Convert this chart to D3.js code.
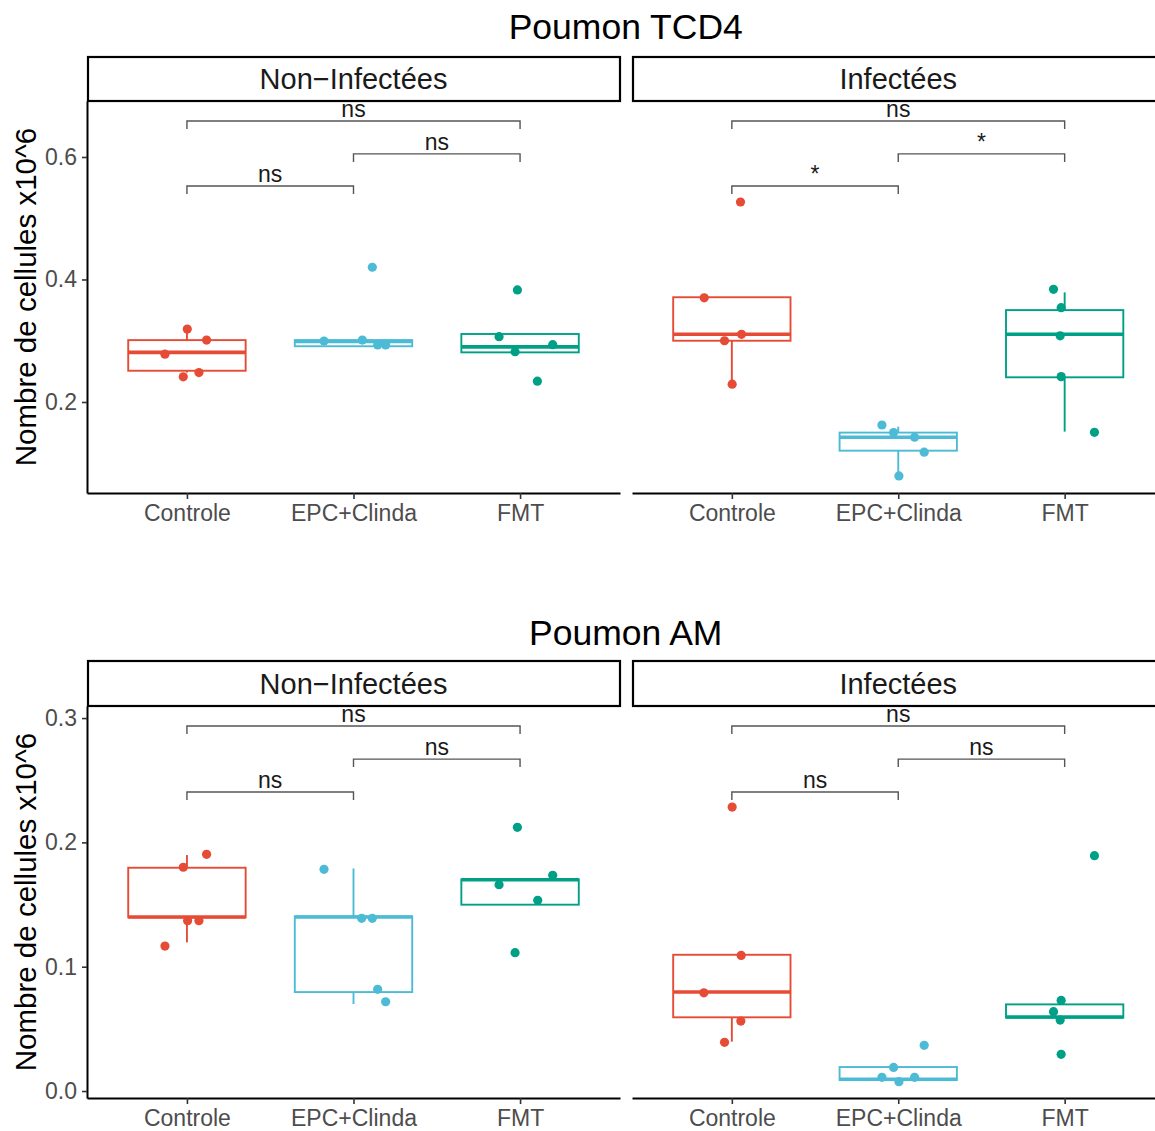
<!DOCTYPE html>
<html><head><meta charset="utf-8">
<script src="https://cdn.jsdelivr.net/npm/d3@7"></script>
<style>body{margin:0;background:#fff} text{font-family:"Liberation Sans",Arial,sans-serif}</style>
</head><body><svg id="c" width="1155" height="1131"></svg>
<script>
// ---------- data ----------
const categories = ["Controle", "EPC+Clinda", "FMT"];
const facets = ["Non−Infectées", "Infectées"];
const groupColors = ["#E64B35", "#4DBBD5", "#00A087"];
const comparisons = [[0, 1], [1, 2], [0, 2]];

// Poumon TCD4
const tcd4Ticks = [0.2, 0.4, 0.6];
const tcd4BracketY = [0.5527, 0.605, 0.6588];
const tcd4NonLabels = ["ns", "ns", "ns"];
const tcd4InfLabels = ["*", "*", "ns"];
const tcd4NonValues = [[0.278, 0.319, 0.301, 0.241, 0.248], [0.2996, 0.301, 0.293, 0.293, 0.42], [0.3067, 0.2936, 0.282, 0.383, 0.234]];
const tcd4NonJitter = [[-0.132, 0.002, 0.118, -0.022, 0.072], [-0.177, 0.053, 0.145, 0.193, 0.113], [-0.126, 0.196, -0.030, -0.016, 0.104]];
const tcd4NonBox = [[0.251, 0.281, 0.301, 0.248, 0.319], [0.291, 0.299, 0.301, 0.291, 0.301], [0.281, 0.290, 0.311, 0.281, 0.311]];
const tcd4InfValues = [[0.370, 0.3105, 0.300, 0.229, 0.5265], [0.1624, 0.150, 0.1424, 0.118, 0.0792], [0.384, 0.354, 0.308, 0.2414, 0.1505]];
const tcd4InfJitter = [[-0.166, 0.058, -0.044, 0.002, 0.052], [-0.098, -0.028, 0.098, 0.156, 0.004], [-0.067, -0.021, -0.027, -0.021, 0.179]];
const tcd4InfBox = [[0.300, 0.3105, 0.371, 0.229, 0.371], [0.1205, 0.1424, 0.150, 0.0792, 0.1597], [0.2403, 0.3105, 0.350, 0.1516, 0.379]];

// Poumon AM
const amTicks = [0.0, 0.1, 0.2, 0.3];
const amBracketY = [0.2405, 0.267, 0.2936];
const amNonLabels = ["ns", "ns", "ns"];
const amInfLabels = ["ns", "ns", "ns"];
const amNonValues = [[0.180, 0.1904, 0.137, 0.137, 0.1166], [0.1783, 0.1389, 0.1389, 0.0818, 0.0718], [0.2121, 0.1735, 0.166, 0.1534, 0.1113]];
const amNonJitter = [[-0.022, 0.118, 0.004, 0.072, -0.132], [-0.177, 0.049, 0.113, 0.145, 0.193], [-0.016, 0.196, -0.126, 0.106, -0.030]];
const amNonBox = [[0.1397, 0.1400, 0.1796, 0.1196, 0.1898], [0.0796, 0.1400, 0.1405, 0.070, 0.179], [0.1499, 0.1700, 0.1703, 0.1499, 0.1703]];
const amInfValues = [[0.1091, 0.079, 0.0563, 0.0392, 0.2284], [0.019, 0.011, 0.0075, 0.011, 0.0368], [0.0729, 0.0638, 0.0571, 0.0295, 0.1893]];
const amInfJitter = [[0.056, -0.168, 0.054, -0.044, 0.002], [-0.028, -0.098, 0.004, 0.098, 0.156], [-0.021, -0.067, -0.027, -0.021, 0.179]];
const amInfBox = [[0.0593, 0.0796, 0.1096, 0.0397, 0.1096], [0.0088, 0.0095, 0.0193, 0.0088, 0.0193], [0.059, 0.0595, 0.0697, 0.059, 0.0697]];

// ---------- layout ----------
const svg = d3.select("#c");
const panelX = [[87, 620], [632, 1164.5]];
const charts = [
  { title: "Poumon TCD4", titleY: 39, stripTop: 57, top: 101, bottom: 493, domain: [0.0514, 0.6914], ticks: tcd4Ticks, brackets: tcd4BracketY,
    facetData: [[tcd4NonValues, tcd4NonJitter, tcd4NonBox, tcd4NonLabels], [tcd4InfValues, tcd4InfJitter, tcd4InfBox, tcd4InfLabels]] },
  { title: "Poumon AM", titleY: 645, stripTop: 661, top: 706, bottom: 1098, domain: [-0.0056, 0.3097], ticks: amTicks, brackets: amBracketY,
    facetData: [[amNonValues, amNonJitter, amNonBox, amNonLabels], [amInfValues, amInfJitter, amInfBox, amInfLabels]] }
];

charts.forEach(ch => {
  const y = d3.scaleLinear().domain(ch.domain).range([ch.bottom, ch.top]);
  svg.append("text").attr("x", (panelX[0][0] + panelX[1][1]) / 2).attr("y", ch.titleY)
    .attr("text-anchor", "middle").attr("font-size", 35.5).attr("fill", "#000").text(ch.title);
  // y axis title
  svg.append("text").attr("transform", `translate(36,${(ch.top + ch.bottom) / 2}) rotate(-90)`)
    .attr("text-anchor", "middle").attr("font-size", 29.5).attr("fill", "#000").text("Nombre de cellules x10^6");

  facets.forEach((fname, fi) => {
    const [x0, x1] = panelX[fi];
    const x = d3.scalePoint().domain(categories).range([x0, x1]).padding(0.6);
    const step = x.step();
    const [vals, jit, boxes, labels] = ch.facetData[fi];
    const g = svg.append("g");

    // strip
    g.append("rect").attr("x", x0 + 1).attr("y", ch.stripTop).attr("width", x1 - x0 - 1).attr("height", ch.top - ch.stripTop)
      .attr("fill", "#fff").attr("stroke", "#000").attr("stroke-width", 2.2);
    g.append("text").attr("x", (x0 + x1) / 2).attr("y", (ch.stripTop + ch.top) / 2 + 10)
      .attr("text-anchor", "middle").attr("font-size", 29).attr("fill", "#1a1a1a").text(fname);

    // x axis
    const xa = g.append("g").attr("transform", `translate(0,${ch.bottom})`)
      .call(d3.axisBottom(x).tickSize(6).tickSizeOuter(0).tickPadding(6));
    xa.select(".domain").attr("stroke", "#000").attr("stroke-width", 2);
    xa.selectAll(".tick line").attr("stroke", "#333").attr("stroke-width", 1.6);
    xa.selectAll(".tick text").attr("font-size", 23).attr("fill", "#4d4d4d").attr("font-family", "Liberation Sans, Arial, sans-serif");

    // y axis (left facet only)
    if (fi === 0) {
      const ya = g.append("g").attr("transform", `translate(${x0},0)`)
        .call(d3.axisLeft(y).tickValues(ch.ticks).tickFormat(d3.format(".1f")).tickSize(5).tickSizeOuter(0).tickPadding(5));
      ya.select(".domain").attr("stroke", "#000").attr("stroke-width", 2);
      ya.selectAll(".tick line").attr("stroke", "#333").attr("stroke-width", 1.6);
      ya.selectAll(".tick text").attr("font-size", 23).attr("fill", "#4d4d4d").attr("font-family", "Liberation Sans, Arial, sans-serif");
    }

    // boxplots
    categories.forEach((c, ci) => {
      const [q1, med, q3, wlo, whi] = boxes[ci];
      const cx = x(c), col = groupColors[ci], bw = 0.705 * step;
      g.append("line").attr("x1", cx).attr("x2", cx).attr("y1", y(q3)).attr("y2", y(whi)).attr("stroke", col).attr("stroke-width", 1.9);
      g.append("line").attr("x1", cx).attr("x2", cx).attr("y1", y(q1)).attr("y2", y(wlo)).attr("stroke", col).attr("stroke-width", 1.9);
      g.append("rect").attr("x", cx - bw / 2).attr("y", y(q3)).attr("width", bw).attr("height", Math.max(0, y(q1) - y(q3)))
        .attr("fill", "#fff").attr("stroke", col).attr("stroke-width", 1.9);
      g.append("line").attr("x1", cx - bw / 2).attr("x2", cx + bw / 2).attr("y1", y(med)).attr("y2", y(med))
        .attr("stroke", col).attr("stroke-width", 3.6);
    });

    // jittered points
    categories.forEach((c, ci) => {
      g.selectAll(null).data(vals[ci].map((v, i) => ({ v, dx: jit[ci][i] }))).join("circle")
        .attr("cx", d => x(c) + d.dx * step).attr("cy", d => y(d.v)).attr("r", 4.6).attr("fill", groupColors[ci]);
    });

    // significance brackets
    comparisons.forEach(([a, b], k) => {
      const yy = y(ch.brackets[k]);
      const xa1 = x(categories[a]), xb1 = x(categories[b]);
      g.append("path").attr("d", `M${xa1},${yy + 8}V${yy}H${xb1}V${yy + 8}`)
        .attr("fill", "none").attr("stroke", "#555").attr("stroke-width", 1.4);
      g.append("text").attr("x", (xa1 + xb1) / 2).attr("y", yy - 4).attr("text-anchor", "middle")
        .attr("font-size", 23).attr("fill", "#1a1a1a").text(labels[k]);
    });
  });
});
</script></body></html>
